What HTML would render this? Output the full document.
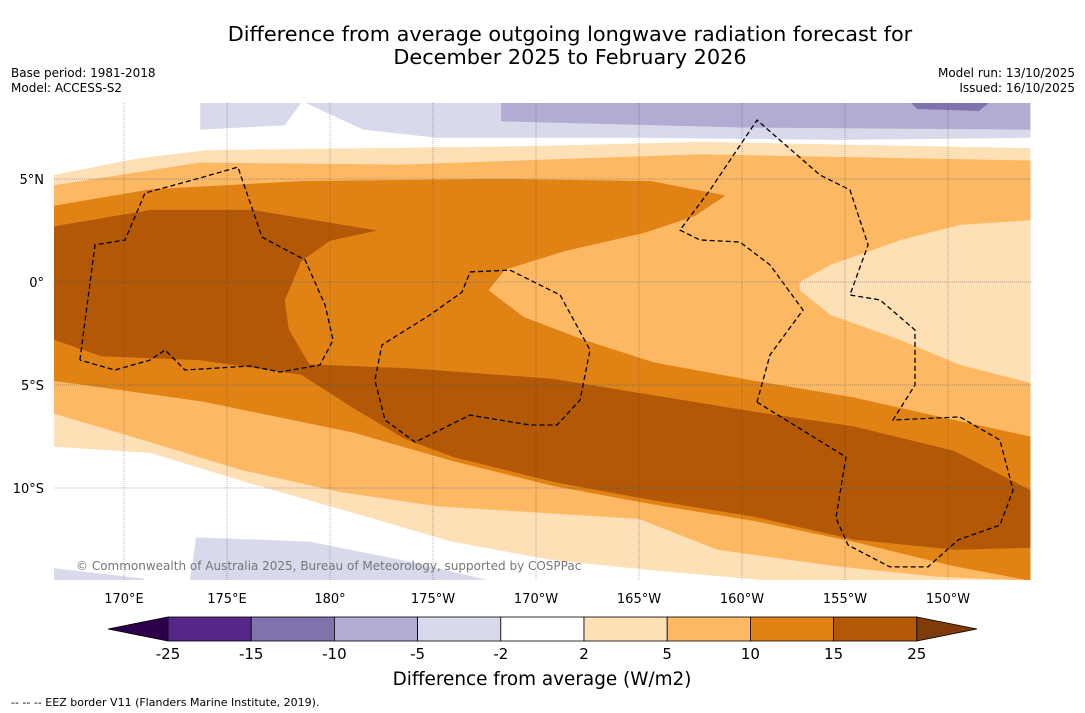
<!DOCTYPE html>
<html><head><meta charset="utf-8"><style>
body{margin:0;background:#fff;font-family:"Liberation Sans","DejaVu Sans",sans-serif;}
#wrap{position:relative;width:1085px;height:713px;overflow:hidden;background:#fff}
svg text{font-family:"DejaVu Sans","Liberation Sans",sans-serif}
</style></head><body>
<div id="wrap">
<svg id="svg" width="1085" height="713">
<text x="570" y="41" font-size="20.8" text-anchor="middle">Difference from average outgoing longwave radiation forecast for</text>
<text x="570" y="64" font-size="20.8" text-anchor="middle">December 2025 to February 2026</text>
<text x="11" y="77" font-size="12">Base period: 1981-2018</text>
<text x="11" y="92" font-size="12">Model: ACCESS-S2</text>
<text x="1075" y="77" font-size="12" text-anchor="end">Model run: 13/10/2025</text>
<text x="1075" y="92" font-size="12" text-anchor="end">Issued: 16/10/2025</text>
<g id="map"></g>
<g id="cbar"></g>
<text x="542" y="685" font-size="18.4" text-anchor="middle">Difference from average (W/m2)</text>
<text x="11" y="706" font-size="11">--  --  -- EEZ border V11 (Flanders Marine Institute, 2019).</text>
</svg>
</div>
<script>
const X0=54,X1=1031,Y0=103,Y1=580;
function xs(lon){return 124+(lon-170)*20.6;}
function ys(lat){return 282-lat*20.6;}
const lonTicks=[170,175,180,185,190,195,200,205,210];
const lonLabels=["170°E","175°E","180°","175°W","170°W","165°W","160°W","155°W","150°W"];
const latTicks=[5,0,-5,-10];
const latLabels=["5°N","0°","5°S","10°S"];
const levels=["-25","-15","-10","-5","-2","2","5","10","15","25"];
const colors=["#2d004b","#542788","#8073ac","#b2abd2","#d8daeb","#ffffff","#fee0b6","#fdb863","#e08214","#b35806","#7f3b08"];
const band2=[[166.6,5.2],[170.7,6],[174,6.4],[190,6.6],[198,6.8],[214,6.5],[214,-14.5],[201.4,-14.5],[195.7,-14],[190.8,-13.5],[185.9,-12.6],[181.1,-11.2],[176.2,-9.8],[171.3,-8.3],[166.6,-8]];
const band5=[[166.6,4.7],[173.7,5.8],[183.4,5.7],[198,6.2],[214,5.9],[214,-14.5],[209.4,-14.3],[204.6,-13.8],[198.8,-13],[195,-11.5],[190.2,-11.2],[185.3,-10.9],[180.5,-10.2],[175.6,-9.1],[170.7,-7.6],[166.6,-6.4]];
const inner2=[[202.8,0],[204.3,0.83],[207.7,2.04],[210.6,2.77],[214,3],[214,-4.9],[210.6,-4.03],[207.7,-2.82],[204.3,-1.6],[202.8,-0.4]];
const band10=[[166.6,3.7],[171.3,4.5],[178.6,4.9],[188.3,5],[195.6,4.9],[199.2,4.2],[197.7,3.2],[195.3,2.4],[191.4,1.5],[188.5,0.6],[187.7,-0.4],[189.4,-1.7],[192.3,-2.8],[195.7,-3.9],[200.6,-4.8],[205.4,-5.6],[210.3,-6.7],[214,-7.5],[214,-14.5],[210.3,-13.8],[205.4,-12.6],[200.6,-11.6],[195.7,-10.8],[190.8,-9.9],[186,-8.7],[181.1,-7.3],[173.8,-5.8],[166.6,-4.8]];
const band15=[[166.6,2.7],[171.3,3.5],[176.2,3.5],[182.3,2.5],[180,2],[178.6,1],[177.8,-0.9],[178,-2.3],[179,-4],[184,-4.2],[190.8,-4.7],[195.7,-5.5],[200.6,-6.3],[205.4,-7],[210.3,-8.2],[214,-10.1],[214,-12.9],[210.3,-13.0],[205.4,-12.5],[200.6,-11.4],[195.7,-10.6],[190.8,-9.7],[186,-8.5],[183.6,-7.6],[181.1,-6.1],[178.6,-4.5],[173.7,-3.8],[168.9,-3.6],[166.6,-2.8]];
const lav1=[[173.7,8.7],[178.6,8.7],[177.8,7.6],[173.7,7.4]];
const lav2=[[178.8,8.7],[214,8.7],[214,7.0],[204.6,6.9],[194.9,7],[185.2,7],[181.6,7.4]];
const pur1=[[188.3,8.7],[214,8.7],[214,7.4],[200,7.5],[188.3,7.8]];
const pur2=[[208.2,8.7],[212,8.7],[211.5,8.3],[208.5,8.4]];
const lav3=[[173.5,-12.4],[179,-12.6],[184,-13.6],[187.8,-14.5],[173.2,-14.5]];
const lav4=[[166.6,-13.9],[171,-14.4],[171,-14.5],[166.6,-14.5]];
const eezA=[[167.86,-3.79],[168.59,1.8],[170.05,2.04],[171.02,4.32],[173.69,5.05],[175.53,5.58],[176.7,2.18],[178.79,1.07],[179.76,-1.12],[180.15,-2.82],[179.51,-4.03],[177.57,-4.37],[176.12,-4.08],[172.96,-4.27],[171.99,-3.3],[171.26,-3.79],[169.56,-4.27],[167.86,-3.79]];
const eezB=[[186.8,0.49],[188.74,0.58],[191.17,-0.63],[192.62,-3.3],[192.14,-5.73],[191.02,-6.94],[189.71,-6.94],[186.8,-6.46],[184.13,-7.77],[182.67,-6.7],[182.18,-4.76],[182.52,-3.06],[184.85,-1.6],[186.41,-0.49],[186.8,0.49]];
const eezC=[[200.73,-5.83],[205.05,-8.5],[204.56,-11.46],[205.15,-12.77],[207.18,-13.83],[209.03,-13.83],[210.49,-12.52],[212.52,-11.8],[213.16,-10.1],[212.52,-7.67],[210.58,-6.55],[207.33,-6.7],[208.4,-5.0],[208.4,-2.33],[206.7,-0.87],[205.24,-0.63],[206.12,1.8],[205.24,4.47],[203.79,5.19],[200.73,7.86],[198.45,4.47],[196.99,2.52],[197.96,2.04],[199.9,1.94],[201.36,0.83],[202.96,-1.36],[201.36,-3.54],[200.73,-5.83]];
const ns="http://www.w3.org/2000/svg";
const map=document.getElementById('map');
function pts(a){return a.map(p=>xs(p[0]).toFixed(1)+','+ys(p[1]).toFixed(1)).join(' ');}
function poly(a,fill,name){const e=document.createElementNS(ns,'polygon');e.setAttribute('points',pts(a));e.setAttribute('fill',fill);


map.appendChild(e);}
const cp=document.createElementNS(ns,'clipPath');cp.id='clip';const cr=document.createElementNS(ns,'rect');
cr.setAttribute('x',X0);cr.setAttribute('y',Y0);cr.setAttribute('width',X1-X0);cr.setAttribute('height',Y1-Y0);cp.appendChild(cr);map.appendChild(cp);
map.setAttribute('clip-path','url(#clip)');
poly(lav1,colors[4],'lavender-patch-north-west');
poly(lav2,colors[4],'lavender-band-north');
poly(pur1,colors[3],'purple-band-north');
poly(pur2,colors[2],'dark-purple-patch');
poly(lav3,colors[4],'lavender-patch-south');
poly(lav4,colors[4],'lavender-patch-south-west');
poly(band2,colors[6],'band-2-to-5');
poly(band5,colors[7],'band-5-to-10');
poly(inner2,colors[6],'band-2-to-5-east');
poly(band10,colors[8],'band-10-to-15');
poly(band15,colors[9],'band-15-to-25');
[eezA,eezB,eezC].forEach((a,i)=>{const e=document.createElementNS(ns,'polyline');e.setAttribute('points',pts(a));e.setAttribute('fill','none');e.setAttribute('stroke','#000');e.setAttribute('stroke-width','1.3');e.setAttribute('stroke-dasharray','5,3');


map.appendChild(e);});
lonTicks.forEach((l,i)=>{const e=document.createElementNS(ns,'line');e.setAttribute('x1',xs(l));e.setAttribute('x2',xs(l));e.setAttribute('y1',Y0);e.setAttribute('y2',Y1);e.setAttribute('stroke','#444');e.setAttribute('stroke-width','0.4');e.setAttribute('stroke-dasharray','1,1');


map.appendChild(e);
const t=document.createElementNS(ns,'text');t.setAttribute('x',xs(l));t.setAttribute('y',603);t.setAttribute('font-size','13');t.setAttribute('text-anchor','middle');t.textContent=lonLabels[i];


document.getElementById('svg').appendChild(t);});
latTicks.forEach((l,i)=>{const e=document.createElementNS(ns,'line');e.setAttribute('x1',X0);e.setAttribute('x2',X1);e.setAttribute('y1',ys(l));e.setAttribute('y2',ys(l));e.setAttribute('stroke','#444');e.setAttribute('stroke-width','0.4');e.setAttribute('stroke-dasharray','1,1');


map.appendChild(e);
const t=document.createElementNS(ns,'text');t.setAttribute('x',44);t.setAttribute('y',ys(l)+5);t.setAttribute('font-size','13');t.setAttribute('text-anchor','end');t.textContent=latLabels[i];


document.getElementById('svg').appendChild(t);});
const cpy=document.createElementNS(ns,'text');cpy.setAttribute('x',76);cpy.setAttribute('y',570);cpy.setAttribute('font-size','12');cpy.setAttribute('fill','#777');cpy.textContent='© Commonwealth of Australia 2025, Bureau of Meteorology, supported by COSPPac';


map.appendChild(cpy);
const cb=document.getElementById('cbar');const bx0=168,bw=83.2,by=617,bh=24;
function add(tag,attrs,name){const e=document.createElementNS(ns,tag);for(const k in attrs)e.setAttribute(k,attrs[k]);


cb.appendChild(e);return e;}
add('polygon',{points:`108,629 ${bx0},${by} ${bx0},${by+bh}`,fill:colors[0],stroke:'#000','stroke-width':0.8},'colorbar-extend-low');
for(let i=0;i<9;i++)add('rect',{x:bx0+i*bw,y:by,width:bw,height:bh,fill:colors[i+1],stroke:'#000','stroke-width':0.8},'colorbar-box');
const bx1=bx0+9*bw;
add('polygon',{points:`${bx1},${by} 977,629 ${bx1},${by+bh}`,fill:colors[10],stroke:'#000','stroke-width':0.8},'colorbar-extend-high');
levels.forEach((v,i)=>{const t=add('text',{x:bx0+i*bw,y:659,'font-size':15,'text-anchor':'middle'},'colorbar-tick-label');t.textContent=v;});
</script>
</body></html>
